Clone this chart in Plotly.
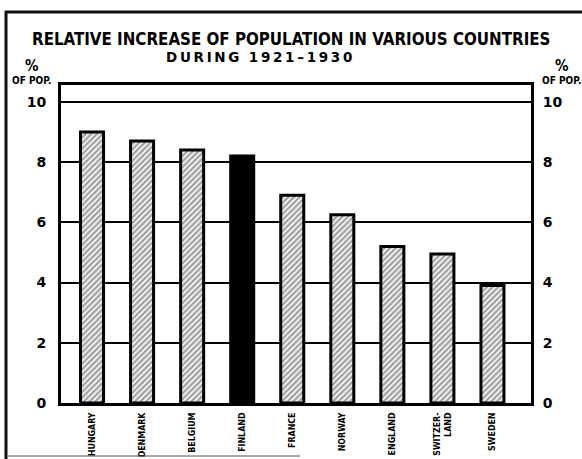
import plotly.graph_objects as go

countries = ["HUNGARY", "DENMARK", "BELGIUM", "FINLAND", "FRANCE", "NORWAY",
             "ENGLAND", "SWITZER-<br>LAND", "SWEDEN"]
values = [9.0, 8.7, 8.4, 8.2, 6.9, 6.25, 5.2, 4.95, 3.9]
highlight = "FINLAND"
yticks = [0, 2, 4, 6, 8, 10]
title_text = "RELATIVE INCREASE OF POPULATION IN VARIOUS COUNTRIES"
subtitle_text = "DURING 1921–1930"
unit_text = "<span style='font-size:15px'>%</span><br>OF POP."

W, H = 582, 459
L, R, T, B = 61, 51, 85, 56
COND = "DejaVu Sans Condensed"

fills = ["" if c == highlight else "/" for c in countries]
colors = ["black" if c == highlight else "white" for c in countries]
xs = list(range(len(countries)))

fig = go.Figure()
fig.add_trace(go.Bar(
    x=xs, y=values, width=0.46,
    marker=dict(color=colors, line=dict(color="black", width=3),
                pattern=dict(shape=fills, fgcolor="black", bgcolor="white",
                             size=4, solidity=0.62)),
    hoverinfo="skip", showlegend=False))
fig.add_trace(go.Scatter(x=xs, y=values, yaxis="y2", mode="markers",
                         marker=dict(opacity=0), hoverinfo="skip", showlegend=False))

tickfont = dict(family="DejaVu Sans", size=14, color="black", weight="bold")
yrange = [0, 10.56]
fig.update_layout(
    width=W, height=H, margin=dict(l=L, r=R, t=T, b=B, autoexpand=False),
    paper_bgcolor="white", plot_bgcolor="white",
    xaxis=dict(range=[-0.62, 8.77], tickvals=xs, ticktext=countries,
               tickangle=-90, showgrid=False, zeroline=False, automargin=False,
               showline=True, mirror=True, linecolor="black", linewidth=3,
               ticks="outside", ticklen=3, tickcolor="rgba(0,0,0,0)",
               tickfont=dict(family=COND, size=8.8, color="black", weight="bold")),
    yaxis=dict(range=yrange, tickvals=yticks, showgrid=True, gridcolor="black",
               gridwidth=1.5, zeroline=False, showline=True, mirror=True,
               automargin=False,
               linecolor="black", linewidth=3, ticks="outside", ticklen=9,
               tickcolor="rgba(0,0,0,0)", tickfont=tickfont),
    yaxis2=dict(range=yrange, tickvals=yticks, overlaying="y", side="right",
                showgrid=False, zeroline=False, showline=False, automargin=False,
                ticks="outside", ticklen=8, tickcolor="rgba(0,0,0,0)",
                tickfont=tickfont),
)

def px2paper_x(p):
    return (p - L) / (W - L - R)

def px2paper_y(p):
    return (H - B - p) / (H - T - B)

fig.add_annotation(text=title_text, xref="paper", yref="paper",
                   x=px2paper_x(291), y=px2paper_y(39),
                   showarrow=False, xanchor="center", yanchor="middle",
                   font=dict(family=COND, size=16.8, color="black", weight="bold"))
spaced = "\u2009".join(list(subtitle_text)).replace("\u2009 \u2009", "  ")
fig.add_annotation(text=spaced, xref="paper", yref="paper",
                   x=px2paper_x(259), y=px2paper_y(57),
                   showarrow=False, xanchor="center", yanchor="middle",
                   font=dict(family="DejaVu Sans", size=13.5, color="black", weight="bold"))
for px in (31, 561):
    fig.add_annotation(text=unit_text, xref="paper", yref="paper",
                       x=px2paper_x(px), y=px2paper_y(72),
                       showarrow=False, xanchor="center", yanchor="middle",
                       font=dict(family=COND, size=10, color="black", weight="bold"))

# outer frame of the printed figure (left and top edges, faint bottom edge)
fig.add_shape(type="line", xref="paper", yref="paper", layer="above",
              x0=px2paper_x(6), x1=px2paper_x(6), y0=px2paper_y(11), y1=px2paper_y(459),
              line=dict(color="#111111", width=3))
fig.add_shape(type="line", xref="paper", yref="paper", layer="above",
              x0=px2paper_x(5), x1=px2paper_x(582), y0=px2paper_y(12), y1=px2paper_y(12),
              line=dict(color="#111111", width=3))
fig.add_shape(type="line", xref="paper", yref="paper", layer="above",
              x0=px2paper_x(6), x1=px2paper_x(300), y0=px2paper_y(456), y1=px2paper_y(456),
              line=dict(color="#555555", width=1))

fig.write_html("out.html", config={"displayModeBar": False},
               post_script="document.body.style.margin='0';document.body.style.overflow='hidden';")
